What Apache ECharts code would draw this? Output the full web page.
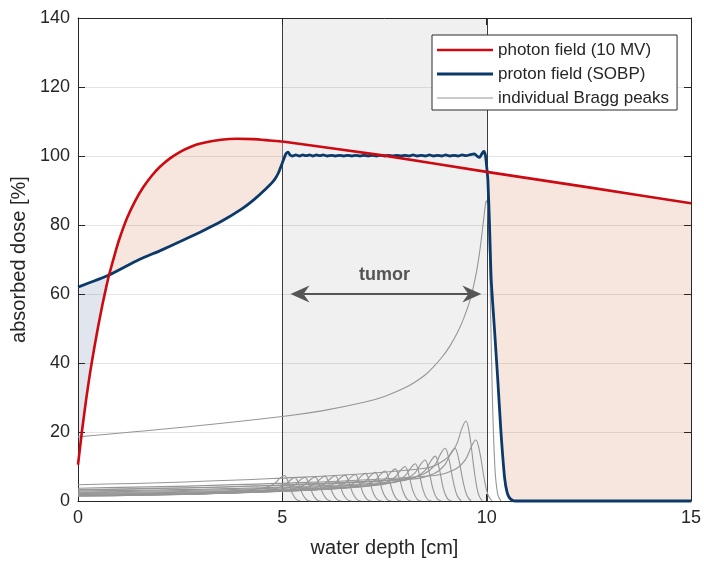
<!DOCTYPE html>
<html><head><meta charset="utf-8">
<script src="https://cdn.jsdelivr.net/npm/echarts@6/dist/echarts.min.js"></script>
<style>html,body{margin:0;padding:0;background:#fff}#c{width:704px;height:563px}</style>
</head><body><div id="c"></div>
<script>
// ---------- data ----------
const xTickValues = [0, 5, 10, 15];
const yTickValues = [0, 20, 40, 60, 80, 100, 120, 140];

const photon = [[0,10.5],[0.1,20.5],[0.2,29.5],[0.3,37.5],[0.4,44.5],[0.5,51],[0.6,57],[0.7,62.5],[0.76,65.5],
  [0.9,71.5],[1.0,75.5],[1.2,82],[1.4,87],[1.6,91],[1.8,94.2],[2.0,96.8],[2.25,99.3],[2.5,101.2],[2.75,102.6],
  [3.0,103.6],[3.5,104.7],[3.9,105],[4.3,104.9],[4.7,104.5],[5.0,104.2],[7.5,100.1],[10,95.4],[12.5,90.9],[15,86.3]];

const proton = [[0,62],[0.76,65.5],[1.5,70],[2.0,72.5],[2.5,75.2],[3.0,78],[3.5,81],[4.0,84.6],[4.3,87.3],[4.6,90.5],
  [4.8,93.0],[4.9,95.0],[5.0,98.0],[5.06,99.9],[5.1,100.8],[5.14,101.1],[5.19,100.3],[5.25,100.0],[5.33,100.3],[5.42,100.0],
  [5.5,100.3],[5.58,100.1],[5.67,100.3],[5.75,100.0],[5.83,100.3],[5.92,100.1],[6.0,100.3],[6.1,100.0],[6.2,100.2],
  [6.3,100.0],[6.4,100.2],[6.5,100.0],[6.6,100.2],[6.7,100.0],[6.8,100.2],[6.9,100.0],[7.0,100.2],[7.1,100.0],
  [7.2,100.2],[7.3,100.0],[7.4,100.2],[7.5,100.0],[7.6,100.2],[7.7,100.0],[7.8,100.2],[7.9,100.0],[8.0,100.2],
  [8.1,100.0],[8.2,100.3],[8.3,100.0],[8.4,100.2],[8.5,100.0],[8.6,100.3],[8.7,100.0],[8.8,100.2],[8.9,100.0],
  [9.0,100.3],[9.1,100.0],[9.2,100.2],[9.3,100.0],[9.4,100.3],[9.5,100.1],[9.6,100.4],[9.7,100.6],[9.78,99.8],
  [9.83,99.6],[9.89,100.8],[9.93,101.3],[9.97,100.2],[10.0,97.0],[10.03,93.0],[10.07,80],[10.11,64.4],[10.19,50],
  [10.27,35.5],[10.35,20],[10.44,6.6],[10.5,2.5],[10.56,0.9],[10.63,0.2],[10.7,0],[15,0]];

const braggPeaks = [
  [[0,1.6],[2.53,2.1],[4.05,3.1],[4.55,3.8],[4.8,5.0],[4.95,6.7],[5.05,7.4],[5.15,5.3],[5.25,2.1],[5.35,0.4],[5.45,0]],
  [[0,1.5],[2.65,2.0],[4.3,2.9],[4.8,3.5],[5.05,4.6],[5.2,6.1],[5.3,6.8],[5.4,4.9],[5.5,1.9],[5.6,0.3],[5.7,0]],
  [[0,1.5],[2.78,2.0],[4.55,2.9],[5.05,3.6],[5.3,4.7],[5.45,6.2],[5.55,6.9],[5.65,5.0],[5.75,1.9],[5.85,0.3],[5.95,0]],
  [[0,1.5],[2.9,2.0],[4.8,2.9],[5.3,3.6],[5.55,4.8],[5.7,6.3],[5.8,7.0],[5.9,5.0],[6.0,2.0],[6.1,0.4],[6.2,0]],
  [[0,1.6],[3.02,2.1],[5.04,3.0],[5.54,3.7],[5.79,4.9],[5.94,6.5],[6.04,7.2],[6.14,5.2],[6.24,2.0],[6.34,0.4],[6.44,0]],
  [[0,1.6],[3.15,2.1],[5.29,3.1],[5.79,3.8],[6.04,5.0],[6.19,6.6],[6.29,7.3],[6.39,5.3],[6.49,2.0],[6.59,0.4],[6.69,0]],
  [[0,1.7],[3.27,2.2],[5.53,3.2],[6.03,3.9],[6.28,5.1],[6.43,6.8],[6.53,7.5],[6.63,5.4],[6.73,2.1],[6.83,0.4],[6.93,0]],
  [[0,1.7],[3.39,2.2],[5.78,3.2],[6.28,4.0],[6.53,5.2],[6.68,6.9],[6.78,7.7],[6.88,5.5],[6.98,2.2],[7.08,0.4],[7.18,0]],
  [[0,1.8],[3.52,2.3],[6.03,3.4],[6.53,4.2],[6.78,5.4],[6.93,7.2],[7.03,8.0],[7.13,5.8],[7.23,2.2],[7.33,0.4],[7.43,0]],
  [[0,1.8],[3.64,2.4],[6.27,3.5],[6.77,4.3],[7.02,5.6],[7.17,7.5],[7.27,8.3],[7.37,6.0],[7.47,2.3],[7.57,0.4],[7.67,0]],
  [[0,1.9],[3.76,2.5],[6.51,3.7],[7.01,4.5],[7.26,5.9],[7.41,7.8],[7.51,8.7],[7.61,6.3],[7.71,2.4],[7.81,0.4],[7.91,0]],
  [[0,2.0],[3.88,2.7],[6.76,3.9],[7.26,4.8],[7.51,6.3],[7.66,8.4],[7.76,9.3],[7.86,6.7],[7.96,2.6],[8.06,0.5],[8.16,0]],
  [[0,2.2],[4.0,2.9],[7.0,4.2],[7.5,5.2],[7.75,6.8],[7.9,9.0],[8.0,10.0],[8.1,7.2],[8.2,2.8],[8.3,0.5],[8.4,0]],
  [[0,2.4],[4.13,3.1],[7.25,4.5],[7.75,5.6],[8.0,7.3],[8.15,9.7],[8.25,10.8],[8.35,7.8],[8.45,3.0],[8.55,0.5],[8.65,0]],
  [[0,2.6],[4.25,3.5],[7.49,5.0],[7.99,6.2],[8.24,8.1],[8.39,10.7],[8.49,11.9],[8.59,8.6],[8.69,3.3],[8.79,0.6],[8.89,0]],
  [[0,2.9],[4.37,3.8],[7.74,5.5],[8.24,6.8],[8.49,8.8],[8.64,11.7],[8.74,13.0],[8.84,9.4],[8.94,3.6],[9.04,0.7],[9.14,0]],
  [[0,3.3],[4.49,4.4],[7.98,6.4],[8.48,8.0],[8.73,10.4],[8.88,13.8],[8.98,15.3],[9.08,11.9],[9.18,5.8],[9.28,1.5],[9.38,0]],
  [[0,3.2],[4.61,4.4],[8.22,6.4],[8.72,8.0],[8.97,10.4],[9.12,13.8],[9.22,15.3],[9.32,11.9],[9.42,5.8],[9.52,1.5],[9.62,0]],
  [[0,4.7],[4.75,6.5],[8.49,9.5],[8.99,12.1],[9.24,15.8],[9.39,20.9],[9.49,23.2],[9.59,18.6],[9.69,9.3],[9.79,2.3],[9.89,0]],
  [[0,3.7],[4.87,5.1],[8.73,7.4],[9.23,9.2],[9.48,12.0],[9.63,15.9],[9.73,17.7],[9.83,14.2],[9.93,7.1],[10.03,1.8],[10.13,0]],
  [[0,18.6],[2.5,21.3],[5,24.5],[6,26.2],[7,28.6],[7.5,30.3],[8,32.8],[8.25,34.5],[8.5,36.6],[8.7,38.9],[8.9,41.6],
   [9.1,44.9],[9.3,49.2],[9.45,53.3],[9.6,58.5],[9.72,64.5],[9.82,71.5],[9.9,79],[9.96,85],[9.99,87],[10.03,84],
   [10.08,65],[10.13,35],[10.2,10],[10.27,2],[10.35,0]]
];

const crossings = [0, 0.76, 5, 10, 15];        // limits of the shaded regions between the two curves
const tumorRange = [5, 10];
const arrowTips = [[5.2, 60], [9.87, 60]];
const tumorLabelPos = [7.5, 65.6];
const seriesNames = ['photon field (10 MV)', 'proton field (SOBP)', 'individual Bragg peaks'];

// ---------- chart ----------
const FONT = '"Liberation Sans", Arial, Helvetica, sans-serif';
const INK = '#262626';
const RED = '#cc0a12';
const BLUE = '#0b3a6a';
const GRAY = '#969696';
const PEACH = '#f7e6dd';
const BLUEFILL = '#e1e5ee';

const fillSpecs = [
  {from: crossings[0], to: crossings[1], upper: proton, lower: photon, color: BLUEFILL},
  {from: crossings[1], to: crossings[2], upper: photon, lower: proton, color: PEACH},
  {from: crossings[3], to: crossings[4], upper: photon, lower: proton, color: PEACH}
];

function between(arr, a, b) {
  return arr.filter(p => p[0] >= a - 1e-9 && p[0] <= b + 1e-9);
}

const chart = echarts.init(document.getElementById('c'), null, {renderer: 'canvas'});

const yMin = yTickValues[0], yMax = yTickValues[yTickValues.length - 1];
const xMin = xTickValues[0], xMax = xTickValues[xTickValues.length - 1];

const series = [];

// tumor band
series.push({
  type: 'custom', z: -3, silent: true,
  data: [[tumorRange[0], yMin]],
  renderItem(params, api) {
    const tl = api.coord([tumorRange[0], yMax]);
    const br = api.coord([tumorRange[1], yMin]);
    const xl = Math.round(tl[0]) + 0.5, xr = Math.round(br[0]) + 0.5;
    return {type: 'group', children: [
      {type: 'rect', shape: {x: tl[0], y: tl[1], width: br[0] - tl[0], height: br[1] - tl[1]}, style: {fill: '#f0f0f0'}},
      {type: 'line', shape: {x1: xl, y1: tl[1], x2: xl, y2: br[1]}, style: {stroke: '#3c3c3c', lineWidth: 1}},
      {type: 'line', shape: {x1: xr, y1: tl[1], x2: xr, y2: br[1]}, style: {stroke: '#3c3c3c', lineWidth: 1}}
    ]};
  }
});

// shaded regions between the curves
series.push({
  type: 'custom', z: -2, silent: true,
  data: fillSpecs.map((s, i) => [s.from, yMin, i]),
  renderItem(params, api) {
    const s = fillSpecs[params.dataIndex];
    const pts = between(s.upper, s.from, s.to).map(p => api.coord(p))
      .concat(between(s.lower, s.from, s.to).reverse().map(p => api.coord(p)));
    return {type: 'polygon', shape: {points: pts}, style: {fill: s.color}};
  }
});

// Bragg peaks
braggPeaks.forEach(pk => {
  series.push({
    type: 'line', name: seriesNames[2], data: pk, smooth: 0.4, showSymbol: false, symbol: 'none',
    lineStyle: {color: GRAY, width: 1.1}, itemStyle: {color: GRAY}, silent: true, z: 2
  });
});

series.push({
  type: 'line', name: seriesNames[1], data: proton, showSymbol: false, symbol: 'none', smooth: 0.2, clip: false,
  lineStyle: {color: BLUE, width: 2.8}, itemStyle: {color: BLUE}, silent: true, z: 3
});
series.push({
  type: 'line', name: seriesNames[0], data: photon, showSymbol: false, symbol: 'none', smooth: 0.2,
  lineStyle: {color: RED, width: 2.6}, itemStyle: {color: RED}, silent: true, z: 4
});

// tumor arrow + label
series.push({
  type: 'custom', z: 5, silent: true,
  data: [arrowTips[0]],
  renderItem(params, api) {
    const a = api.coord(arrowTips[0]), b = api.coord(arrowTips[1]);
    const t = api.coord(tumorLabelPos);
    const L = 19, W = 8.5, N = 13, C = '#555555';
    return {type: 'group', children: [
      {type: 'line', shape: {x1: a[0] + N, y1: a[1], x2: b[0] - N, y2: b[1]}, style: {stroke: C, lineWidth: 2}},
      {type: 'polygon', shape: {points: [[a[0], a[1]], [a[0] + L, a[1] - W], [a[0] + N, a[1]], [a[0] + L, a[1] + W]]}, style: {fill: C}},
      {type: 'polygon', shape: {points: [[b[0], b[1]], [b[0] - L, b[1] - W], [b[0] - N, b[1]], [b[0] - L, b[1] + W]]}, style: {fill: C}},
      {type: 'text', x: t[0], y: t[1], style: {text: 'tumor', fill: C, fontSize: 18, fontWeight: 'bold', fontFamily: FONT, align: 'center', verticalAlign: 'middle'}}
    ]};
  }
});

const gridLineColor = 'rgba(38,38,38,0.12)';

const option = {
  animation: false,
  backgroundColor: '#ffffff',
  grid: {left: 78, right: 10, top: 18, bottom: 60, containLabel: false},
  legend: {
    orient: 'vertical', left: 432, top: 35, padding: [6, 8, 3, 5],
    itemWidth: 56, itemHeight: 14, itemGap: 6,
    backgroundColor: '#ffffff', borderColor: '#2a2a2a', borderWidth: 1, borderRadius: 0,
    selectedMode: false,
    textStyle: {color: INK, fontSize: 17, fontFamily: FONT, lineHeight: 18},
    data: [
      {name: seriesNames[0], icon: 'path://M0 0H56V2.6H0Z', itemStyle: {color: RED}},
      {name: seriesNames[1], icon: 'path://M0 0H56V2.8H0Z', itemStyle: {color: BLUE}},
      {name: seriesNames[2], icon: 'path://M0 0H56V1H0Z', itemStyle: {color: GRAY}}
    ]
  },
  xAxis: [{
    type: 'value', min: xMin, max: xMax, interval: 5, position: 'bottom',
    name: 'water depth [cm]', nameLocation: 'middle', nameGap: 37,
    nameTextStyle: {color: INK, fontSize: 20, fontFamily: FONT},
    axisLine: {show: true, onZero: false, lineStyle: {color: INK, width: 1}},
    axisTick: {show: true, inside: true, length: 7, lineStyle: {color: INK}},
    axisLabel: {color: INK, fontSize: 18, fontFamily: FONT, margin: 8},
    splitLine: {show: false}
  }, {
    type: 'value', min: xMin, max: xMax, interval: 5, position: 'top',
    axisLine: {show: true, onZero: false, lineStyle: {color: INK, width: 1}},
    axisTick: {show: true, inside: true, length: 7, lineStyle: {color: INK}},
    axisLabel: {show: false}, splitLine: {show: false}
  }],
  yAxis: [{
    type: 'value', min: yMin, max: yMax, interval: 20, position: 'left',
    name: 'absorbed dose [%]', nameLocation: 'middle', nameGap: 43,
    nameTextStyle: {color: INK, fontSize: 20, fontFamily: FONT},
    axisLine: {show: true, onZero: false, lineStyle: {color: INK, width: 1}},
    axisTick: {show: true, inside: true, length: 7, lineStyle: {color: INK}},
    axisLabel: {color: INK, fontSize: 18, fontFamily: FONT, margin: 8},
    splitLine: {show: true, lineStyle: {color: gridLineColor, width: 1}}
  }, {
    type: 'value', min: yMin, max: yMax, interval: 20, position: 'right',
    axisLine: {show: true, onZero: false, lineStyle: {color: INK, width: 1}},
    axisTick: {show: true, inside: true, length: 7, lineStyle: {color: INK}},
    axisLabel: {show: false}, splitLine: {show: false}
  }],
  series: series
};

chart.setOption(option);
</script>
</body></html>
